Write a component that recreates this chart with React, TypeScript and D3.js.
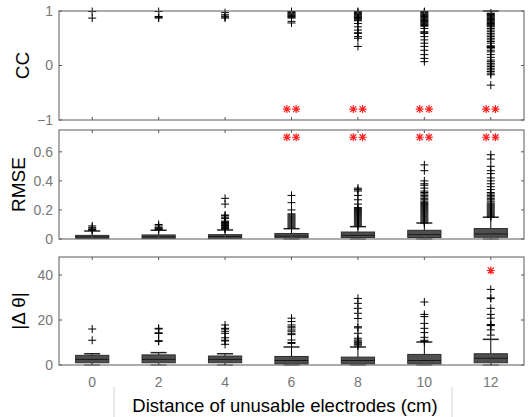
import React from 'react';
import * as d3 from 'd3';

// categories: distance of unusable electrodes (cm)
const categories = [0, 2, 4, 6, 8, 10, 12];
const sigCategories = [6, 8, 10, 12];

// CC panel (boxes collapse onto the top edge)
const ccQ1 = [1, 1, 1, 1, 1, 1, 0.975];
const ccMedian = [1, 1, 1, 1, 1, 1, 0.975];
const ccQ3 = [1, 1, 1, 1, 1, 1, 0.975];
const ccWhiskerLo = [1, 1, 1, 1, 1, 1, 0.975];
const ccWhiskerHi = [1, 1, 1, 1, 1, 1, 1];
const ccOutliers = [
  [0.99, 0.87],
  [0.99, 0.9, 0.885, 0.87],
  [0.97, 0.93, 0.905, 0.89, 0.87],
  [0.99, 0.975, 0.96, 0.945, 0.93, 0.915, 0.9, 0.885, 0.87, 0.81, 0.78],
  [0.99, 0.975, 0.955, 0.94, 0.925, 0.91, 0.895, 0.88, 0.865, 0.85, 0.835, 0.82, 0.77, 0.71, 0.65, 0.6, 0.59, 0.53, 0.5, 0.35],
  [0.99, 0.975, 0.96, 0.945, 0.93, 0.915, 0.9, 0.885, 0.87, 0.855, 0.84, 0.825, 0.81, 0.795, 0.78, 0.765, 0.75, 0.735, 0.72,
    0.68, 0.62, 0.6, 0.59, 0.53, 0.47, 0.41, 0.35, 0.28, 0.2, 0.13, 0.07],
  [0.96, 0.95, 0.935, 0.92, 0.905, 0.89, 0.875, 0.86, 0.845, 0.83, 0.815, 0.8, 0.785, 0.77, 0.755, 0.74, 0.725, 0.71,
    0.68, 0.65, 0.62, 0.59, 0.56, 0.53, 0.5, 0.47, 0.44, 0.41, 0.36, 0.35, 0.34, 0.33, 0.32, 0.28, 0.25,
    0.2, 0.15, 0.1, 0.07, 0.04, 0.01, -0.02, -0.05, -0.08, -0.11, -0.14, -0.17, -0.36],
];
const ccSigY = -0.8;

// RMSE panel
const rmseQ1 = [0.005, 0.005, 0.005, 0.008, 0.01, 0.01, 0.012];
const rmseMedian = [0.015, 0.015, 0.017, 0.02, 0.025, 0.03, 0.035];
const rmseQ3 = [0.025, 0.028, 0.03, 0.038, 0.048, 0.06, 0.072];
const rmseWhiskerLo = [0, 0, 0, 0, 0, 0, 0];
const rmseWhiskerHi = [0.055, 0.06, 0.062, 0.071, 0.085, 0.11, 0.15];
const rmseOutliers = [
  [0.06, 0.065, 0.07, 0.08, 0.09],
  [0.065, 0.07, 0.075, 0.08, 0.09, 0.1],
  [0.068, 0.073, 0.078, 0.083, 0.088, 0.093, 0.098, 0.103, 0.108, 0.113, 0.118, 0.123,
    0.14, 0.15, 0.16, 0.165, 0.24, 0.28],
  [0.075, 0.082, 0.089, 0.096, 0.103, 0.11, 0.117, 0.124, 0.131, 0.138, 0.145, 0.152, 0.159, 0.166, 0.173,
    0.2, 0.25, 0.3],
  [0.09, 0.097, 0.104, 0.111, 0.118, 0.125, 0.132, 0.139, 0.146, 0.153, 0.16, 0.167, 0.174, 0.181, 0.188,
    0.195, 0.202, 0.209, 0.216, 0.24, 0.27, 0.3, 0.33, 0.34, 0.35],
  [0.11, 0.117, 0.124, 0.131, 0.138, 0.145, 0.152, 0.159, 0.166, 0.173, 0.18, 0.187, 0.194, 0.201, 0.208,
    0.215, 0.222, 0.229, 0.236, 0.243, 0.25, 0.26, 0.27, 0.28, 0.29, 0.3, 0.31, 0.32, 0.33, 0.35, 0.37,
    0.38, 0.4, 0.47, 0.51],
  [0.15, 0.157, 0.164, 0.171, 0.178, 0.185, 0.192, 0.199, 0.206, 0.213, 0.22, 0.227, 0.234, 0.241, 0.248,
    0.26, 0.27, 0.28, 0.29, 0.3, 0.31, 0.32, 0.34, 0.36, 0.38, 0.4, 0.42, 0.45, 0.47, 0.5, 0.55, 0.58],
];
const rmseSigY = 0.7;

// |delta theta| panel
const thetaQ1 = [1, 1, 1, 0.5, 0.5, 0.5, 1];
const thetaMedian = [2.5, 2.5, 2.5, 2, 2, 2, 3];
const thetaQ3 = [4.3, 4.5, 4, 3.8, 3.5, 4.7, 5];
const thetaWhiskerLo = [0, 0, 0, 0, 0, 0, 0];
const thetaWhiskerHi = [5, 5.5, 5, 8, 8, 10.2, 11.4];
const thetaOutliers = [
  [11, 16],
  [10.5, 10.8, 14, 14.3, 16, 16.3],
  [9.2, 10.7, 11, 12.1, 14.1, 15, 16, 16.3, 17.8],
  [9.6, 10, 11.1, 13.5, 14.1, 15, 15.6, 16.5, 17, 17.8, 19.3, 20.8],
  [8.5, 9.2, 9.7, 10.1, 10.6, 11.1, 11.9, 14.1, 16.5, 17, 20.7, 23, 25.2, 27.4, 29.6],
  [10.5, 11, 12.3, 14.4, 16.3, 18.5, 21.5, 22.5, 28],
  [13.3, 15.6, 17.5, 17.8, 18, 20.8, 22.5, 25.2, 29.5, 29.8, 33.6],
];
const thetaSigCategories = [12];
const thetaSigY = 42;

const FONT = 'Liberation Sans, Arial, Helvetica, sans-serif';
const x = d3.scaleLinear().domain([-1, 13]).range([59, 524]);
const boxHalf = x(0.5) - x(0);
const capHalf = 8;
const plusPath = 'M-4,0H4M0,-4V4';
const starPath = 'M-4,0H4M0,-4V4M-3,-3L3,3M-3,3L3,-3';

type PanelProps = {
  top: number;
  bottom: number;
  domain: [number, number];
  ticks: number[];
  tickFmt: (v: number) => string;
  label: string;
  labelX: number;
  q1: number[];
  median: number[];
  q3: number[];
  lo: number[];
  hi: number[];
  outliers: number[][];
  sigCats: number[];
  sigY: number;
  pair: boolean;
  showX?: boolean;
};

function Panel(p: PanelProps) {
  const y = d3.scaleLinear().domain(p.domain).range([p.bottom, p.top]);
  const [x0, x1] = x.range();
  return (
    <g>
      {categories.map((c, i) => {
        const cx = x(c);
        const boxH = y(p.q1[i]) - y(p.q3[i]);
        const showHi = y(p.q3[i]) - y(p.hi[i]) >= 1;
        const showLo = y(p.lo[i]) - y(p.q1[i]) >= 1;
        return (
          <g key={c}>
            {showHi && <line x1={cx} x2={cx} y1={y(p.q3[i])} y2={y(p.hi[i])} stroke="#000" />}
            {showHi && <line x1={cx - capHalf} x2={cx + capHalf} y1={y(p.hi[i])} y2={y(p.hi[i])} stroke="#222" strokeWidth={1.5} />}
            {showLo && <line x1={cx} x2={cx} y1={y(p.q1[i])} y2={y(p.lo[i])} stroke="#000" />}
            {showLo && <line x1={cx - capHalf} x2={cx + capHalf} y1={y(p.lo[i])} y2={y(p.lo[i])} stroke="#333" />}
            {boxH >= 1 && (
              <rect x={cx - boxHalf} width={boxHalf * 2} y={y(p.q3[i])} height={boxH} fill="#4f4f4f" stroke="#2e2e2e" />
            )}
            {boxH >= 1 && (
              <line x1={cx - boxHalf} x2={cx + boxHalf} y1={y(p.median[i])} y2={y(p.median[i])} stroke="#1a1a1a" />
            )}
            {p.outliers[i].map((v, j) => (
              <path key={j} d={plusPath} transform={`translate(${cx},${y(v)})`} stroke="#000" strokeWidth={1} fill="none" />
            ))}
          </g>
        );
      })}
      {p.sigCats.map(c => (p.pair ? [-0.14, 0.14] : [0]).map((o, j) => (
        <path key={`${c}-${j}`} d={starPath} transform={`translate(${x(c + o)},${y(p.sigY)})`}
          stroke="#ff2020" strokeWidth={1.2} fill="none" />
      )))}
      <rect x={x0} y={p.top} width={x1 - x0} height={p.bottom - p.top} fill="none" stroke="#5a5a5a" />
      {p.ticks.map(t => (
        <g key={t}>
          <line x1={x0} x2={x0 + 3} y1={y(t)} y2={y(t)} stroke="#5a5a5a" />
          <line x1={x1} x2={x1 - 3} y1={y(t)} y2={y(t)} stroke="#5a5a5a" />
          <text x={x0 - 6} y={y(t)} dy="0.35em" textAnchor="end" fontSize={14} fill="#777" fontFamily={FONT}>
            {p.tickFmt(t)}
          </text>
        </g>
      ))}
      {categories.map(c => (
        <g key={c}>
          <line x1={x(c)} x2={x(c)} y1={p.top} y2={p.top + 3} stroke="#5a5a5a" />
          <line x1={x(c)} x2={x(c)} y1={p.bottom} y2={p.bottom - 3} stroke="#5a5a5a" />
          {p.showX && (
            <text x={x(c)} y={p.bottom + 17} dy="0.35em" textAnchor="middle" fontSize={14} fill="#777" fontFamily={FONT}>
              {c}
            </text>
          )}
        </g>
      ))}
      <text transform={`translate(${p.labelX},${(p.top + p.bottom) / 2}) rotate(-90)`} textAnchor="middle"
        dy="0.35em" fontSize={19} fill="#000" fontFamily={FONT}>
        {p.label}
      </text>
    </g>
  );
}

export default function App() {
  return (
    <svg width={528} height={417} style={{ position: 'absolute', left: 0, top: 0, background: '#fff' }}>
      <Panel top={11} bottom={120} domain={[-1, 1]} ticks={[-1, 0, 1]} tickFmt={d3.format('d')} label="CC" labelX={22}
        q1={ccQ1} median={ccMedian} q3={ccQ3} lo={ccWhiskerLo} hi={ccWhiskerHi} outliers={ccOutliers}
        sigCats={sigCategories} sigY={ccSigY} pair />
      <Panel top={130} bottom={239} domain={[0, 0.75]} ticks={[0, 0.2, 0.4, 0.6]} tickFmt={v => (v === 0 ? '0' : d3.format('.1f')(v))}
        label="RMSE" labelX={18}
        q1={rmseQ1} median={rmseMedian} q3={rmseQ3} lo={rmseWhiskerLo} hi={rmseWhiskerHi} outliers={rmseOutliers}
        sigCats={sigCategories} sigY={rmseSigY} pair />
      <Panel top={257} bottom={365} domain={[0, 48]} ticks={[0, 20, 40]} tickFmt={d3.format('d')} label="|Δ θ|" labelX={18}
        q1={thetaQ1} median={thetaMedian} q3={thetaQ3} lo={thetaWhiskerLo} hi={thetaWhiskerHi} outliers={thetaOutliers}
        sigCats={thetaSigCategories} sigY={thetaSigY} pair={false} showX />
      <line x1={114} x2={114} y1={387} y2={417} stroke="#d4d4d4" />
      <line x1={452} x2={452} y1={387} y2={417} stroke="#d4d4d4" />
      <text x={285} y={406} dy="0.35em" textAnchor="middle" fontSize={18.5} fill="#000" fontFamily={FONT}>
        Distance of unusable electrodes (cm)
      </text>
    </svg>
  );
}
